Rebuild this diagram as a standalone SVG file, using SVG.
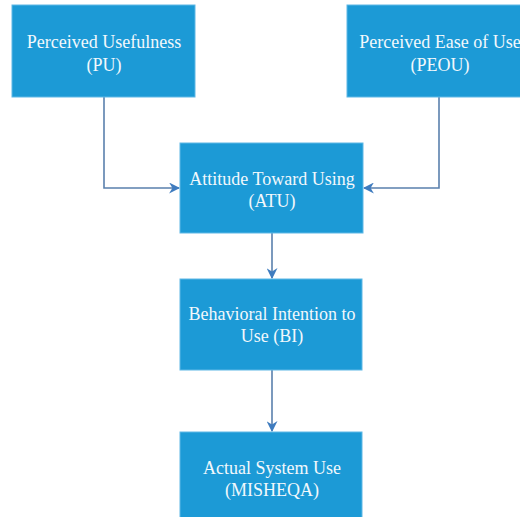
<svg xmlns="http://www.w3.org/2000/svg" width="520" height="517" viewBox="0 0 520 517">
<defs>
<style>
.box{fill:#1c9ad6;stroke:#5fb8e6;stroke-width:1}
.lbl{font-family:"Liberation Serif","Times New Roman",serif;font-size:18px;fill:#f2f8fc;text-anchor:middle}
.conn{fill:none;stroke:#5a80ad;stroke-width:1.6}
</style>
<marker id="arr" viewBox="0 0 10 10" refX="9" refY="5" markerWidth="11" markerHeight="11" markerUnits="userSpaceOnUse" orient="auto">
<path d="M0,0 L10,5 L0,10 L3,5 Z" fill="#3f7cbf"/>
</marker>
</defs>
<rect width="520" height="517" fill="#ffffff"/>
<g id="connectors">
<path class="conn" d="M104,97 V188 H179" marker-end="url(#arr)"/>
<path class="conn" d="M439,97 V188 H364" marker-end="url(#arr)"/>
<path class="conn" d="M272,233 V278" marker-end="url(#arr)"/>
<path class="conn" d="M272,370 V431" marker-end="url(#arr)"/>
</g>
<g id="pu">
<rect class="box" x="12" y="5" width="183" height="92"/>
<text class="lbl" x="104" y="48">Perceived Usefulness</text>
<text class="lbl" x="104" y="71">(PU)</text>
</g>
<g id="peou">
<rect class="box" x="347" y="5" width="184" height="92"/>
<text class="lbl" x="440" y="48">Perceived Ease of Use</text>
<text class="lbl" x="440" y="71">(PEOU)</text>
</g>
<g id="atu">
<rect class="box" x="180" y="143" width="183" height="90"/>
<text class="lbl" x="272" y="185">Attitude Toward Using</text>
<text class="lbl" x="272" y="207">(ATU)</text>
</g>
<g id="bi">
<rect class="box" x="180" y="279" width="182" height="91"/>
<text class="lbl" x="272" y="320">Behavioral Intention to</text>
<text class="lbl" x="272" y="342">Use (BI)</text>
</g>
<g id="asu">
<rect class="box" x="180" y="432" width="182" height="92"/>
<text class="lbl" x="272" y="474">Actual System Use</text>
<text class="lbl" x="272" y="496">(MISHEQA)</text>
</g>
</svg>
